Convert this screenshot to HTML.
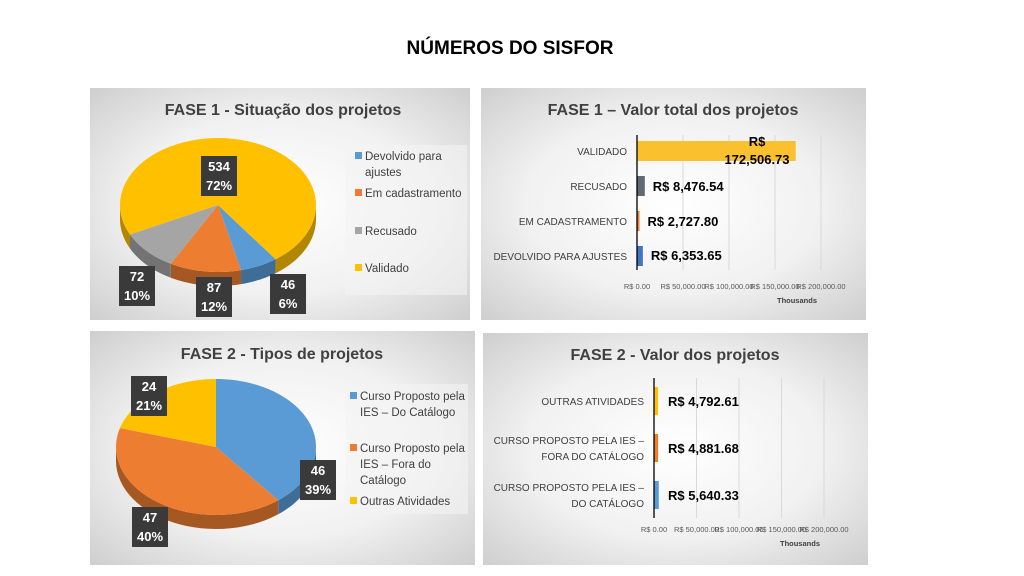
<!DOCTYPE html>
<html><head><meta charset="utf-8">
<style>
body{margin:0;background:#fff;}
svg{display:block;font-family:"Liberation Sans",sans-serif;}
</style></head>
<body>
<svg id="s" width="1024" height="576" viewBox="0 0 1024 576">
<defs>
<radialGradient id="bg" cx="50%" cy="50%" r="70%">
<stop offset="0" stop-color="#ffffff"/><stop offset="0.55" stop-color="#f1f1f1"/><stop offset="1" stop-color="#cfcfcf"/>
</radialGradient>
</defs>
<text x="510" y="54" text-anchor="middle" font-size="19" font-weight="bold" fill="#000">NÚMEROS DO SISFOR</text>
<rect x="90" y="88" width="380" height="232" fill="url(#bg)"/>
<rect x="481" y="88" width="385" height="232" fill="url(#bg)"/>
<rect x="90" y="331" width="385" height="234" fill="url(#bg)"/>
<rect x="483" y="333" width="385" height="232" fill="url(#bg)"/>
<text x="283" y="115" text-anchor="middle" font-size="16" font-weight="bold" fill="#404040">FASE 1 - Situação dos projetos</text>
<text x="673" y="115" text-anchor="middle" font-size="16" font-weight="bold" fill="#404040">FASE 1 – Valor total dos projetos</text>
<text x="282" y="359" text-anchor="middle" font-size="16" font-weight="bold" fill="#404040">FASE 2 - Tipos de projetos</text>
<text x="675" y="360" text-anchor="middle" font-size="16" font-weight="bold" fill="#404040">FASE 2 - Valor dos projetos</text>
<g id="g"></g>
</svg>
<script>
// Pie 1 data
const pie1Labels = ["Devolvido para ajustes","Em cadastramento","Recusado","Validado"];
const pie1Values = [46,87,72,534];
const pie1Pct = ["6%","12%","10%","72%"];
// Pie 2 data
const pie2Labels = ["Curso Proposto pela IES – Do Catálogo","Curso Proposto pela IES – Fora do Catálogo","Outras Atividades"];
const pie2Values = [46,47,24];
const pie2Pct = ["39%","40%","21%"];
// Bar 1 data
const bar1Cats = ["VALIDADO","RECUSADO","EM CADASTRAMENTO","DEVOLVIDO PARA AJUSTES"];
const bar1Values = [172506.73,8476.54,2727.80,6353.65];
const bar1Labels = ["R$ 172,506.73","R$ 8,476.54","R$ 2,727.80","R$ 6,353.65"];
// Bar 2 data
const bar2Cats = [["OUTRAS ATIVIDADES"],["CURSO PROPOSTO PELA IES –","FORA DO CATÁLOGO"],["CURSO PROPOSTO PELA IES –","DO CATÁLOGO"]];
const bar2Values = [4792.61,4881.68,5640.33];
const bar2Labels = ["R$ 4,792.61","R$ 4,881.68","R$ 5,640.33"];
const axisTicks = [0,50000,100000,150000,200000];
const tickLabels = ["R$ 0.00","R$ 50,000.00","R$ 100,000.00","R$ 150,000.00","R$ 200,000.00"];

const NS="http://www.w3.org/2000/svg";
const G=document.getElementById('g');
function mk(tag,attrs,parent){const e=document.createElementNS(NS,tag);for(const k in attrs)e.setAttribute(k,attrs[k]);(parent||G).appendChild(e);return e;}
function shade(hex,f){const n=parseInt(hex.slice(1),16);const r=Math.round(((n>>16)&255)*f),g=Math.round(((n>>8)&255)*f),b=Math.round((n&255)*f);return `rgb(${r},${g},${b})`;}

function pie(cx,cy,rx,ry,depth,start,values,colors,name){
  const tot=values.reduce((a,b)=>a+b,0);
  const pt=(a,dy)=>[cx+rx*Math.sin(a*Math.PI/180),cy-ry*Math.cos(a*Math.PI/180)+(dy||0)];
  let a=start;const segs=[];
  values.forEach((v,i)=>{const sw=v/tot*360;segs.push([a,a+sw,i]);a+=sw;});
  segs.forEach(([a0,a1,i])=>{
    for(let k=-1;k<=1;k++){
      const lo=Math.max(a0,90+360*k),hi=Math.min(a1,270+360*k);
      if(hi>lo){
        let d="";const steps=30;
        for(let j=0;j<=steps;j++){const p=pt(lo+(hi-lo)*j/steps);d+=(j?"L":"M")+p[0]+","+p[1];}
        for(let j=steps;j>=0;j--){const p=pt(lo+(hi-lo)*j/steps,depth);d+="L"+p[0]+","+p[1];}
        const e=mk('path',{d:d+"Z",fill:shade(colors[i],0.7)});
        
        
      }
    }
  });
  segs.forEach(([a0,a1,i])=>{
    let d="M"+cx+","+cy;const steps=60;
    for(let j=0;j<=steps;j++){const p=pt(a0+(a1-a0)*j/steps);d+="L"+p[0]+","+p[1];}
    const e=mk('path',{d:d+"Z",fill:colors[i]});
    
    
  });
}
function lbl(x,y,l1,l2,name){
  const g=mk('g',{});
  
  
  mk('rect',{x:x-18,y:y-14,width:36,height:40,fill:"#3a3a3a"},g);
  const t1=mk('text',{x:x,y:y+1,"text-anchor":"middle","font-size":"13","font-weight":"bold",fill:"#fff"},g);t1.textContent=l1;
  const t2=mk('text',{x:x,y:y+20,"text-anchor":"middle","font-size":"13","font-weight":"bold",fill:"#fff"},g);t2.textContent=l2;
}
function legend(x,y,lines,color,name){
  const r=mk('rect',{x:x,y:y-8,width:7,height:7,fill:color});
  
  
  lines.forEach((l,j)=>{const t=mk('text',{x:x+10,y:y+j*16,"font-size":"11.5",fill:"#404040"});t.textContent=l;
    
    });
}
// Pie 1
const c1=["#5b9bd5","#ed7d31","#a5a5a5","#ffc000"];
pie(218,205,98,67,14,144,pie1Values,c1,'pie1');
lbl(219,170,String(pie1Values[3]),pie1Pct[3],'pie1-label-validado');
lbl(137,280,String(pie1Values[2]),pie1Pct[2],'pie1-label-recusado');
lbl(214,291,String(pie1Values[1]),pie1Pct[1],'pie1-label-cadastramento');
lbl(288,288,String(pie1Values[0]),pie1Pct[0],'pie1-label-devolvido');
mk('rect',{x:345,y:145,width:122,height:150,fill:"#f4f4f4",opacity:"0.6"});
legend(355,160,["Devolvido para","ajustes"],c1[0],'legend-devolvido');
legend(355,197,["Em cadastramento"],c1[1],'legend-cadastramento');
legend(355,235,["Recusado"],c1[2],'legend-recusado');
legend(355,272,["Validado"],c1[3],'legend-validado');
// Pie 2
const c2=["#5b9bd5","#ed7d31","#ffc000"];
pie(216,447,100,68,14,0,pie2Values,c2,'pie2');
lbl(149,390,String(pie2Values[2]),pie2Pct[2],'pie2-label-outras');
lbl(318,474,String(pie2Values[0]),pie2Pct[0],'pie2-label-do-catalogo');
lbl(150,521,String(pie2Values[1]),pie2Pct[1],'pie2-label-fora-catalogo');
mk('rect',{x:345,y:384,width:123,height:130,fill:"#f4f4f4",opacity:"0.6"});
legend(350,400,["Curso Proposto pela","IES – Do Catálogo"],c2[0],'legend-do-catalogo');
legend(350,452,["Curso Proposto pela","IES – Fora do","Catálogo"],c2[1],'legend-fora-catalogo');
legend(350,505,["Outras Atividades"],c2[2],'legend-outras');

// Bar charts
function bars(x0,pxPer50k,rowY,axisTop,axisBot,values,cats,labels,colors,barH,tickY,thouX,name){
  const xs=v=>x0+v/50000*pxPer50k;
  axisTicks.forEach((t,i)=>{
    if(i>0){const l=mk('line',{x1:xs(t),x2:xs(t),y1:axisTop,y2:axisBot,stroke:"#d9d9d9","stroke-width":"1"});
      
      }
    const tx=mk('text',{x:xs(t),y:tickY,"text-anchor":"middle","font-size":"7.5",fill:"#595959"});
    tx.textContent=tickLabels[i];
    
    
  });
  const th=mk('text',{x:thouX,y:tickY+14,"text-anchor":"middle","font-size":"7.5","font-weight":"bold",fill:"#404040"});
  th.textContent="Thousands";
  
  
  values.forEach((v,i)=>{
    const y=rowY[i];
    const r=mk('rect',{x:x0,y:y-barH/2,width:Math.max(xs(v)-x0,2),height:barH,fill:colors[i]});
    
    
    const c=cats[i];const lines=Array.isArray(c)?c:[c];
    lines.forEach((l,j)=>{const t=mk('text',{x:x0-10,y:y+4+(j-(lines.length-1)/2)*16,"text-anchor":"end","font-size":"10",fill:"#404040"});t.textContent=l;
      
      });
  });
  mk('line',{x1:x0,x2:x0,y1:axisTop,y2:axisBot,stroke:"#000","stroke-width":"1.3"});
}
const b1c=["#fbc02d","#5f6a72","#ed7d31","#4472c4"];
bars(637,46,[151,186,221,256],135,270,bar1Values,bar1Cats,bar1Labels,b1c,20,289,797,'bar1');
[[757,146,"R$"],[757,164,"172,506.73"]].forEach(([x,y,s])=>{const t=mk('text',{x:x,y:y,"text-anchor":"middle","font-size":"13","font-weight":"bold",fill:"#000"});t.textContent=s;
  
  });
[1,2,3].forEach(i=>{const xs=637+bar1Values[i]/50000*46;const t=mk('text',{x:xs+8,y:[0,191,226,260][i],"font-size":"13","font-weight":"bold",fill:"#000"});t.textContent=bar1Labels[i];
  
  });
const b2c=["#ffc000","#ed7d31","#5b9bd5"];
bars(654,42.5,[401,448,495],378,518,bar2Values,bar2Cats,bar2Labels,b2c,28,532,800,'bar2');
bar2Values.forEach((v,i)=>{const t=mk('text',{x:668,y:[406,453,500][i],"font-size":"13","font-weight":"bold",fill:"#000"});t.textContent=bar2Labels[i];
  
  });
</script>
</body></html>
